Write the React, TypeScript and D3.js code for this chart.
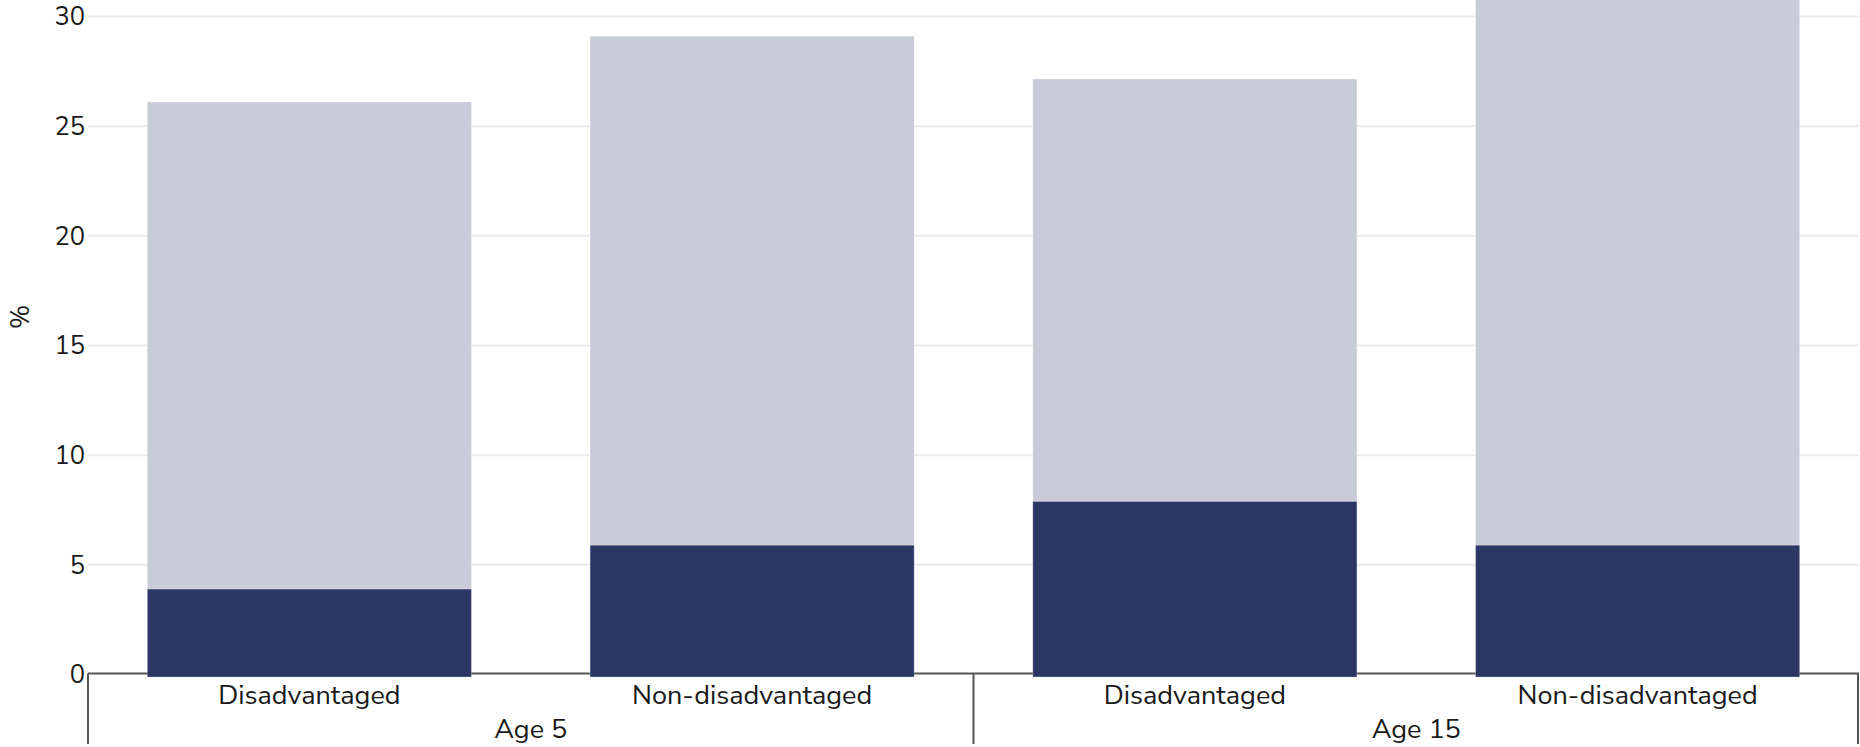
import React from "react";
import * as d3 from "d3";

const groups = ["Age 5", "Age 15"];
const subgroups = ["Disadvantaged", "Non-disadvantaged"];
const categories = [
  { group: "Age 5", sub: "Disadvantaged" },
  { group: "Age 5", sub: "Non-disadvantaged" },
  { group: "Age 15", sub: "Disadvantaged" },
  { group: "Age 15", sub: "Non-disadvantaged" },
];
const darkValues = [3.9, 5.9, 7.9, 5.9];
const lightValues = [22.2, 23.2, 19.25, 26.1];
const yTicks = [0, 5, 10, 15, 20, 25, 30];

const W = 1860;
const H = 747;
const M = { left: 88, right: 1, top: 0, bottom: 73 };
const FONT = "'Nunito Sans', Lato, 'Open Sans', sans-serif";

export default function App() {
  const x0 = M.left;
  const x1 = W - M.right;
  const yBottom = 674.5;
  const y = d3.scaleLinear().domain([0, 30.75]).range([yBottom, 0]);
  const keys = categories.map((c) => c.group + "|" + c.sub);
  const x = d3.scaleBand<string>().domain(keys).range([x0, x1]).paddingInner(0.268).paddingOuter(0.134);
  const gx = d3.scaleBand<string>().domain(groups).range([x0, x1]);

  const rows = categories.map((c, i) => ({ key: keys[i], dark: darkValues[i], light: lightValues[i] }));
  const stack = d3.stack<any>().keys(["dark", "light"])(rows);
  const colors: Record<string, string> = { dark: "#2b3764", light: "#cacbd8" };

  return (
    <div style={{ position: "absolute", left: 0, top: 0 }}>
      <svg width={W} height={H} style={{ display: "block", background: "#fff" }} fontFamily={FONT}>
        {yTicks.slice(1).map((t) => (
          <line key={t} x1={x0} x2={x1} y1={y(t)} y2={y(t)} stroke="#ececec" strokeWidth={2} />
        ))}
        <line x1={x0} x2={x1} y1={yBottom - 1} y2={yBottom - 1} stroke="#555" strokeWidth={2} />
        {stack.map((layer) =>
          layer.map((d, i) => {
            const top = y(d[1]);
            const bot = d[0] === 0 ? yBottom + 2.5 : y(d[0]);
            return (
              <rect
                key={layer.key + i}
                x={x(rows[i].key)!}
                width={x.bandwidth()}
                y={top}
                height={bot - top}
                fill={colors[layer.key]}
                stroke="rgba(255,255,255,0.25)"
                strokeWidth={1}
              />
            );
          })
        )}
        {yTicks.map((t) => (
          <text key={t} x={85} y={y(t)} dy="0.35em" textAnchor="end" fontSize={25.5} fill="#1a1a1a">
            {t}
          </text>
        ))}
        <text transform={`translate(29,317) rotate(-90)`} textAnchor="middle" fontSize={26} fill="#1a1a1a">
          %
        </text>
        {categories.map((c, i) => (
          <text key={keys[i]} x={x(keys[i])! + x.bandwidth() / 2} y={704} textAnchor="middle" fontSize={27} fill="#1a1a1a">
            {c.sub}
          </text>
        ))}
        {groups.map((g) => (
          <text key={g} x={gx(g)! + gx.bandwidth() / 2} y={738} textAnchor="middle" fontSize={27} fill="#1a1a1a">
            {g}
          </text>
        ))}
        {[x0, gx("Age 15")!, x1 - 1].map((sx, i) => (
          <line key={i} x1={sx} x2={sx} y1={yBottom - 1} y2={744} stroke="#555" strokeWidth={2} />
        ))}
      </svg>
    </div>
  );
}
